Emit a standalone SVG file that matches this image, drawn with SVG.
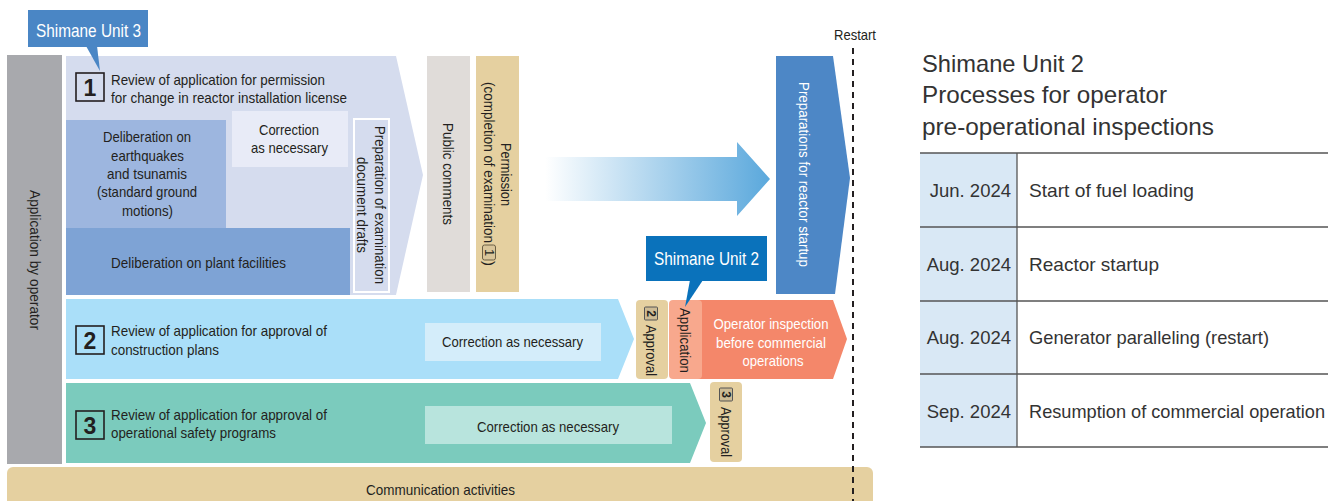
<svg xmlns="http://www.w3.org/2000/svg" width="1328" height="501" viewBox="0 0 1328 501">
<defs>
<linearGradient id="gArrow" x1="0" y1="0" x2="1" y2="0">
<stop offset="0" stop-color="#ffffff"/>
<stop offset="1" stop-color="#5aa8dc"/>
</linearGradient>
<style>
.t{font-family:"Liberation Sans",Arial,sans-serif;font-size:15px;fill:#231f20}
.tc{text-anchor:middle}
.w{fill:#ffffff}
.r{font-family:"Liberation Sans",Arial,sans-serif;fill:#333333}
.num{font-family:"Liberation Sans",Arial,sans-serif;font-weight:bold;font-size:23px;fill:#231f20;text-anchor:middle}
.nbox{fill:none;stroke:#231f20;stroke-width:1.6}
.sbox{fill:#cdbb94;stroke:#555555;stroke-width:1}
.snum{font-family:"Liberation Sans",Arial,sans-serif;font-weight:bold;font-size:12px;fill:#231f20;text-anchor:middle}
.grid{stroke:#555555;stroke-width:1.3;fill:none}
</style>
</defs>

<g id="application-by-operator">
<rect x="7" y="55" width="55" height="409" fill="#a8a9ad"/>
<text class="t tc" transform="translate(35,260) rotate(90)" dominant-baseline="central" textLength="140" lengthAdjust="spacingAndGlyphs">Application by operator</text>
</g>

<g id="review1">
<polygon points="66,56 396,56 423,175 396,295 66,295" fill="#d5dcee"/>
<rect class="nbox" x="76" y="73" width="28" height="28"/>
<text class="num" x="90" y="96">1</text>
<text class="t" x="111" y="85" textLength="214" lengthAdjust="spacingAndGlyphs">Review of application for permission</text>
<text class="t" x="111" y="103" textLength="236" lengthAdjust="spacingAndGlyphs">for change in reactor installation license</text>
</g>

<g id="earthquakes">
<rect x="66" y="120" width="160" height="108" fill="#9db6df"/>
<text class="t tc" x="147" y="142" textLength="88" lengthAdjust="spacingAndGlyphs">Deliberation on</text>
<text class="t tc" x="147.5" y="161" textLength="73" lengthAdjust="spacingAndGlyphs">earthquakes</text>
<text class="t tc" x="147" y="179" textLength="80" lengthAdjust="spacingAndGlyphs">and tsunamis</text>
<text class="t tc" x="147" y="197" textLength="100" lengthAdjust="spacingAndGlyphs">(standard ground</text>
<text class="t tc" x="147.5" y="216" textLength="51" lengthAdjust="spacingAndGlyphs">motions)</text>
</g>

<g id="correction1">
<rect x="232" y="111" width="116" height="56" fill="#e8ebf7"/>
<text class="t tc" x="289" y="135" textLength="60" lengthAdjust="spacingAndGlyphs">Correction</text>
<text class="t tc" x="289.5" y="153" textLength="77" lengthAdjust="spacingAndGlyphs">as necessary</text>
</g>

<g id="plant-facilities">
<rect x="66" y="228" width="284" height="67" fill="#7ea3d5"/>
<text class="t tc" x="198.5" y="268" textLength="175" lengthAdjust="spacingAndGlyphs">Deliberation on plant facilities</text>
</g>

<g id="preparation-drafts">
<rect x="354" y="119" width="35" height="173" fill="#d5dcee" stroke="#ffffff" stroke-width="2"/>
<g transform="translate(371.5,0) rotate(90)">
<text class="t tc" x="205" y="-8.5" dominant-baseline="central" textLength="158" lengthAdjust="spacingAndGlyphs">Preparation of examination</text>
<text class="t tc" x="205" y="9.5" dominant-baseline="central" textLength="96" lengthAdjust="spacingAndGlyphs">document drafts</text>
</g>
</g>

<g id="public-comments">
<rect x="427" y="56" width="43" height="236" fill="#e0dcd9"/>
<text class="t tc" transform="translate(448,174) rotate(90)" dominant-baseline="central" textLength="102" lengthAdjust="spacingAndGlyphs">Public comments</text>
</g>

<g id="permission">
<rect x="476" y="56" width="43" height="236" fill="#e5d0a0"/>
<g transform="translate(497.5,0) rotate(90)">
<text class="t tc" x="174.5" y="-8.5" dominant-baseline="central" textLength="63" lengthAdjust="spacingAndGlyphs">Permission</text>
<text class="t" x="82" y="8.5" dominant-baseline="central" textLength="161" lengthAdjust="spacingAndGlyphs">(completion of examination</text>
<rect x="245" y="2" width="15" height="13" rx="2" fill="#d9c59a" stroke="#6b5f45" stroke-width="1"/>
<text class="t tc" x="252.5" y="8.5" dominant-baseline="central" style="font-size:13px">1</text>
<text class="t" x="261" y="8.5" dominant-baseline="central">)</text>
</g>
</g>

<g id="preparations-startup">
<polygon points="776,56 833,56 850,178 835,294 776,294" fill="#4d87c6"/>
<text class="t tc w" transform="translate(804,174.5) rotate(90)" dominant-baseline="central" textLength="185" lengthAdjust="spacingAndGlyphs">Preparations for reactor startup</text>
</g>

<g id="shimane-unit3">
<rect x="28" y="10" width="120" height="37" fill="#4a86c5"/>
<polygon points="86,46 97,46 100,71" fill="#4a86c5"/>
<text class="t w" x="36" y="37" style="font-size:19px" textLength="105" lengthAdjust="spacingAndGlyphs">Shimane Unit 3</text>
</g>

<g id="review2">
<polygon points="66,299 618,299 634,339 618,379 66,379" fill="#aadff9"/>
<rect class="nbox" x="76" y="326" width="28" height="28"/>
<text class="num" x="90" y="349">2</text>
<text class="t" x="111" y="336" textLength="216" lengthAdjust="spacingAndGlyphs">Review of application for approval of</text>
<text class="t" x="111" y="355" textLength="108" lengthAdjust="spacingAndGlyphs">construction plans</text>
<rect x="425" y="323" width="176" height="38" fill="#d4edfa"/>
<text class="t tc" x="512.5" y="347" textLength="141" lengthAdjust="spacingAndGlyphs">Correction as necessary</text>
</g>

<g id="approval2">
<rect x="636" y="300" width="32" height="79" rx="4" fill="#e5d0a0"/>
<g transform="translate(651,0) rotate(90)">
<rect class="sbox" x="307" y="-6.5" width="13" height="13" rx="1"/>
<text class="snum" x="313.5" y="0" dominant-baseline="central">2</text>
<text class="t" x="325" y="0" dominant-baseline="central" textLength="51" lengthAdjust="spacingAndGlyphs">Approval</text>
</g>
</g>

<g id="operator-inspection">
<polygon points="674,300 833,300 847,339 833,379 674,379" fill="#f4876a"/>
<rect x="669" y="300" width="33" height="79" rx="4" fill="#f8a88d"/>
<text class="t" transform="translate(685.5,308) rotate(90)" dominant-baseline="central" textLength="65" lengthAdjust="spacingAndGlyphs">Application</text>
<text class="t tc w" x="771" y="329" textLength="115" lengthAdjust="spacingAndGlyphs">Operator inspection</text>
<text class="t tc w" x="771" y="348" textLength="110" lengthAdjust="spacingAndGlyphs">before commercial</text>
<text class="t tc w" x="773" y="366" textLength="61" lengthAdjust="spacingAndGlyphs">operations</text>
</g>

<g id="shimane-unit2">
<rect x="646" y="236" width="121" height="45" fill="#0a72bb"/>
<polygon points="690,280 703,280 685,307" fill="#0a72bb"/>
<text class="t w" x="654" y="265" style="font-size:19px" textLength="105" lengthAdjust="spacingAndGlyphs">Shimane Unit 2</text>
</g>

<g id="review3">
<polygon points="66,383 690,383 706,423 690,463 66,463" fill="#7bcbbd"/>
<rect class="nbox" x="76" y="411" width="28" height="28"/>
<text class="num" x="90" y="434">3</text>
<text class="t" x="111" y="420" textLength="216" lengthAdjust="spacingAndGlyphs">Review of application for approval of</text>
<text class="t" x="111" y="438" textLength="165" lengthAdjust="spacingAndGlyphs">operational safety programs</text>
<rect x="425" y="406" width="247" height="38" fill="#b8e4dd"/>
<text class="t tc" x="548" y="432" textLength="142" lengthAdjust="spacingAndGlyphs">Correction as necessary</text>
</g>

<g id="approval3">
<rect x="710" y="382" width="32" height="80" rx="4" fill="#e5d0a0"/>
<g transform="translate(726,0) rotate(90)">
<rect class="sbox" x="388" y="-6.5" width="13" height="13" rx="1"/>
<text class="snum" x="394.5" y="0" dominant-baseline="central">3</text>
<text class="t" x="407" y="0" dominant-baseline="central" textLength="50" lengthAdjust="spacingAndGlyphs">Approval</text>
</g>
</g>

<g id="communication">
<rect x="7" y="467" width="866" height="50" rx="6" fill="#e5d0a0"/>
<text class="t tc" x="440.5" y="495" textLength="149" lengthAdjust="spacingAndGlyphs">Communication activities</text>
</g>

<g id="connectors">
<polygon points="545,157 737,157 737,142 770,179 737,216 737,201 545,201" fill="url(#gArrow)"/>
<line x1="853" y1="48" x2="853" y2="501" stroke="#231f20" stroke-width="2" stroke-dasharray="6,5"/>
<text class="t tc" x="855" y="40" textLength="42" lengthAdjust="spacingAndGlyphs">Restart</text>
</g>

<g id="schedule">
<text class="r" x="922" y="72" font-size="24" textLength="162" lengthAdjust="spacingAndGlyphs">Shimane Unit 2</text>
<text class="r" x="922" y="103" font-size="24" textLength="245" lengthAdjust="spacingAndGlyphs">Processes for operator</text>
<text class="r" x="922" y="135" font-size="24" textLength="292" lengthAdjust="spacingAndGlyphs">pre-operational inspections</text>
<rect x="920" y="153" width="97" height="294" fill="#d9e8f5"/>
<line class="grid" x1="920" y1="153" x2="1328" y2="153"/>
<line class="grid" x1="920" y1="227" x2="1328" y2="227"/>
<line class="grid" x1="920" y1="301" x2="1328" y2="301"/>
<line class="grid" x1="920" y1="374" x2="1328" y2="374"/>
<line class="grid" x1="920" y1="447" x2="1328" y2="447"/>
<line class="grid" x1="1017" y1="153" x2="1017" y2="447"/>
<text class="r" x="1011" y="197" font-size="18.5" text-anchor="end">Jun. 2024</text>
<text class="r" x="1029" y="197" font-size="18.5" textLength="165" lengthAdjust="spacingAndGlyphs">Start of fuel loading</text>
<text class="r" x="1011" y="271" font-size="18.5" text-anchor="end">Aug. 2024</text>
<text class="r" x="1029" y="271" font-size="18.5" textLength="130" lengthAdjust="spacingAndGlyphs">Reactor startup</text>
<text class="r" x="1011" y="344" font-size="18.5" text-anchor="end">Aug. 2024</text>
<text class="r" x="1029" y="344" font-size="18.5" textLength="240" lengthAdjust="spacingAndGlyphs">Generator paralleling (restart)</text>
<text class="r" x="1011" y="418" font-size="18.5" text-anchor="end">Sep. 2024</text>
<text class="r" x="1029" y="418" font-size="18.5" textLength="296" lengthAdjust="spacingAndGlyphs">Resumption of commercial operation</text>
</g>
</svg>
